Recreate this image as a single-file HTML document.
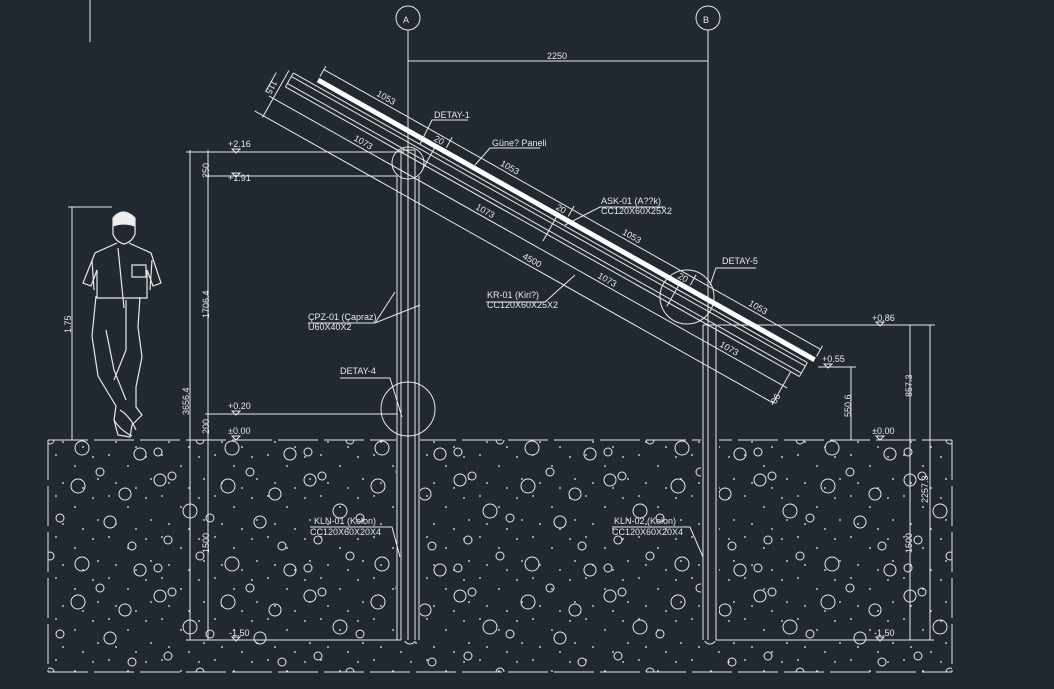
<!DOCTYPE html>
<html><head><meta charset="utf-8"><style>
html,body{margin:0;padding:0;background:#212830;}
svg{display:block;}
text{font-family:"Liberation Sans",sans-serif;fill:#e8e8e8;font-size:9px;}
</style></head><body>
<svg width="1054" height="689" viewBox="0 0 1054 689" xmlns="http://www.w3.org/2000/svg">
<defs>
<pattern id="dots" width="53" height="41" patternUnits="userSpaceOnUse">
<circle cx="3" cy="4" r="0.9" fill="#eee"/><circle cx="22" cy="15" r="0.9" fill="#eee"/><circle cx="40" cy="6" r="0.9" fill="#eee"/><circle cx="45" cy="28" r="0.9" fill="#eee"/><circle cx="10" cy="32" r="0.9" fill="#eee"/><circle cx="30" cy="37" r="0.9" fill="#eee"/>
</pattern>
<pattern id="bub" width="150" height="116" patternUnits="userSpaceOnUse">
<g fill="none" stroke="#e8e8e8" stroke-width="1">
<circle cx="10" cy="16" r="6"/><circle cx="22" cy="12" r="4"/><circle cx="78" cy="22" r="7"/><circle cx="100" cy="8" r="4"/><circle cx="125" cy="30" r="6"/>
<circle cx="40" cy="47" r="7"/><circle cx="60" cy="54" r="4"/><circle cx="110" cy="58" r="6"/><circle cx="18" cy="76" r="4"/><circle cx="132" cy="82" r="4"/>
<circle cx="50" cy="92" r="4"/><circle cx="82" cy="100" r="7"/><circle cx="140" cy="106" r="6"/><circle cx="8" cy="104" r="4"/>
</g></pattern>
</defs>
<g stroke="#e8e8e8" fill="none" stroke-width="1">
<line x1="90" y1="0" x2="90" y2="42"/>
<circle cx="408" cy="18" r="12"/><circle cx="708" cy="18" r="12"/>
<line x1="408" y1="30" x2="408" y2="150"/><line x1="708" y1="30" x2="708" y2="325"/>
<line x1="408" y1="61" x2="708" y2="61"/>
<rect x="48" y="440" width="904" height="232" fill="url(#bub)" stroke="none"/>
<rect x="48" y="440" width="904" height="232" fill="url(#dots)" stroke="none"/>
<line x1="48" y1="440" x2="952" y2="440" stroke-dasharray="40,6"/>
<line x1="48" y1="672" x2="952" y2="672" stroke-dasharray="40,6"/>
<line x1="48" y1="440" x2="48" y2="672" stroke-dasharray="40,6"/>
<line x1="952" y1="440" x2="952" y2="672" stroke-dasharray="40,6"/>
<rect x="396" y="176" width="24" height="465" fill="#212830" stroke="none"/>
<rect x="701" y="325" width="18" height="316" fill="#212830" stroke="none"/>
<line x1="397" y1="176" x2="397" y2="640"/><line x1="401" y1="150" x2="401" y2="640"/><line x1="408" y1="150" x2="408" y2="640"/><line x1="415" y1="150" x2="415" y2="640"/><line x1="419" y1="176" x2="419" y2="640"/>
<line x1="401" y1="150" x2="415" y2="150"/>
<line x1="703" y1="325" x2="703" y2="640"/><line x1="708" y1="325" x2="708" y2="640"/><line x1="716" y1="325" x2="716" y2="640"/>
<line x1="703" y1="325" x2="716" y2="325"/>
<line x1="190" y1="150" x2="190" y2="640"/><line x1="208" y1="150" x2="208" y2="640"/>
<line x1="186" y1="152" x2="404" y2="152"/><line x1="205" y1="176" x2="397" y2="176"/><line x1="205" y1="414" x2="397" y2="414"/><line x1="186" y1="640" x2="401" y2="640"/>
<line x1="72" y1="207" x2="72" y2="440"/><line x1="68" y1="207" x2="112" y2="207"/>
<line x1="718" y1="325" x2="935" y2="325"/><line x1="910" y1="325" x2="910" y2="640"/><line x1="930" y1="325" x2="930" y2="640"/>
<line x1="818" y1="367" x2="856" y2="367"/><line x1="851" y1="367" x2="851" y2="440"/>
<line x1="716" y1="640" x2="934" y2="640"/>
<circle cx="408" cy="163" r="16"/><circle cx="687" cy="297" r="27"/><circle cx="408" cy="409" r="27"/>
<polyline points="420,144 432,120 468,120"/>
<polyline points="475,165 490,148 540,148"/>
<polyline points="565,225 600,207 665,207"/>
<polyline points="575,275 545,302 486,302"/>
<polyline points="375,323 395,292"/><polyline points="375,323 420,305"/><line x1="308" y1="323" x2="375" y2="323"/>
<polyline points="402,417 390,378 340,378"/>
<polyline points="710,285 716,268 756,268"/>
<polyline points="400,557 392,527 310,527"/>
<polyline points="703,557 690,527 612,527"/>
<path d="M232,149 l8,0 l-4,4z M232,173 l8,0 l-4,4z M232,411 l8,0 l-4,4z M232,436 l8,0 l-4,4z M232,637 l8,0 l-4,4z M876,322 l8,0 l-4,4z M824,364 l8,0 l-4,4z M876,436 l8,0 l-4,4z M876,637 l8,0 l-4,4z"/>
<g stroke-width="1.2">
<path d="M113,218 q10,-12 22,0 l0,12 q-2,10 -11,12 q-9,-2 -11,-12z" fill="#eee"/>
<path d="M113,226 q10,-4 22,0 l0,8 q-3,8 -11,10 q-8,-2 -11,-10z" fill="#212830"/>
<path d="M117,243 l-22,10 l-12,30 l8,3 l6,-16 l0,28 l50,0 l0,-28 l6,16 l8,-3 l-10,-30 l-22,-10"/>
<path d="M96,296 l-4,40 l6,40 l12,20 l6,10 l-2,14 l4,15 l12,2 l2,-12 l10,-10 l-6,-8 l0,-20 l6,-30 l-4,-30 l2,-30"/>
<path d="M106,330 l8,40 l12,30 M126,300 l0,50 l-12,30 M118,248 l6,60 M132,265 l14,0 l0,12 l-14,0z M94,290 l-2,-30 M150,290 l2,-30"/>
<path d="M114,420 q6,10 18,16 M120,410 q10,6 16,20"/>
</g>
</g>
<g transform="translate(318,80) rotate(29.4)">
<g stroke="#e8e8e8" fill="none" stroke-width="1">
<line x1="0" y1="-12" x2="570" y2="-12"/>
<line x1="0" y1="-16" x2="0" y2="-4"/><line x1="145" y1="-16" x2="145" y2="-4"/><line x1="285" y1="-16" x2="285" y2="-4"/><line x1="425" y1="-16" x2="425" y2="-4"/><line x1="570" y1="-16" x2="570" y2="-4"/>
<line x1="-25" y1="6" x2="565" y2="6"/>
<line x1="-25" y1="10" x2="565" y2="10"/>
<line x1="-25" y1="18" x2="565" y2="18"/>
<line x1="-25" y1="22" x2="565" y2="22"/>
<line x1="-25" y1="6" x2="-25" y2="22"/><line x1="565" y1="6" x2="565" y2="22"/>
<line x1="-35" y1="38" x2="560" y2="38"/>
<line x1="-40" y1="58" x2="555" y2="58"/>
<line x1="-30" y1="6" x2="-30" y2="60"/>
<line x1="-40" y1="14" x2="-40" y2="36"/>
<line x1="555" y1="22" x2="555" y2="60"/>
<line x1="135" y1="-2" x2="135" y2="26"/><line x1="275" y1="-2" x2="275" y2="30"/><line x1="415" y1="-2" x2="415" y2="26"/>
</g>
<line x1="0" y1="0" x2="570" y2="0" stroke="#fff" stroke-width="5"/>
<text x="58" y="-15">1053</text><text x="200" y="-15">1053</text><text x="340" y="-15">1053</text><text x="485" y="-15">1053</text>
<text x="60" y="35">1073</text><text x="200" y="35">1073</text><text x="340" y="35">1073</text><text x="480" y="35">1073</text>
<text x="265" y="55">4500</text>
<text x="130" y="-4" font-size="8">20</text><text x="270" y="-4" font-size="8">20</text><text x="410" y="-4" font-size="8">20</text>
<text x="-40" y="22" font-size="8" transform="rotate(90 -40 22)">115</text>
<text x="552" y="48" font-size="8" transform="rotate(90 552 48)">90</text>
</g>
<text x="403" y="23" font-size="14">A</text><text x="703" y="23" font-size="14">B</text>
<text x="547" y="59">2250</text>
<text x="434" y="118" font-size="8">DETAY-1</text>
<text x="492" y="146" font-size="8">Güne? Paneli</text>
<text x="601" y="204" font-size="8">ASK-01 (A??k)</text><text x="601" y="214" font-size="8">CC120X60X25X2</text>
<text x="487" y="298" font-size="8">KR-01 (Kiri?)</text><text x="487" y="308" font-size="8">CC120X60X25X2</text>
<text x="308" y="320" font-size="8">ÇPZ-01 (Çapraz)</text><text x="308" y="330" font-size="8">U60X40X2</text>
<text x="340" y="374" font-size="8">DETAY-4</text>
<text x="722" y="264" font-size="8">DETAY-5</text>
<text x="314" y="524" font-size="8">KLN-01 (Kolon)</text><text x="310" y="535" font-size="8">CC120X60X20X4</text>
<text x="614" y="524" font-size="8">KLN-02 (Kolon)</text><text x="612" y="535" font-size="8">CC120X60X20X4</text>
<text x="228" y="147">+2.16</text><text x="228" y="181">+1.91</text><text x="228" y="409">+0.20</text><text x="228" y="434">±0.00</text><text x="229" y="636">-1.50</text>
<text x="872" y="321">+0.86</text><text x="822" y="362">+0.55</text><text x="872" y="434">±0.00</text><text x="874" y="636">-1.50</text>
<g font-size="9">
<text transform="translate(209,178) rotate(-90)">250</text>
<text transform="translate(209,318) rotate(-90)">1706.4</text>
<text transform="translate(189,415) rotate(-90)">3656.4</text>
<text transform="translate(209,434) rotate(-90)">200</text>
<text transform="translate(209,553) rotate(-90)">1500</text>
<text transform="translate(71,333) rotate(-90)">1.75</text>
<text transform="translate(912,397) rotate(-90)">857.3</text>
<text transform="translate(851,417) rotate(-90)">550.6</text>
<text transform="translate(928,503) rotate(-90)">2257.3</text>
<text transform="translate(912,553) rotate(-90)">1500</text>
</g>
</svg>
</body></html>
